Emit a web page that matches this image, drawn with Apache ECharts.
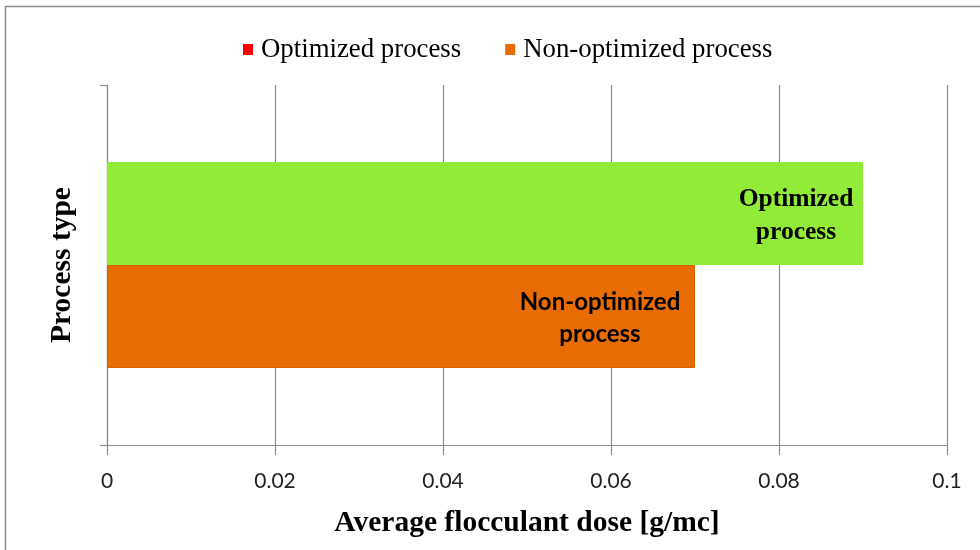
<!DOCTYPE html>
<html>
<head>
<meta charset="utf-8">
<script src="https://cdn.jsdelivr.net/npm/echarts@6/dist/echarts.min.js"></script>
<style>html,body{margin:0;padding:0;background:#fff}#c{width:980px;height:550px}</style>
</head>
<body>
<div id="c"></div>
<script>
const categories = [''];
const seriesNames = ['Optimized process', 'Non-optimized process'];
const optimizedValues = [0.09];
const nonOptimizedValues = [0.07];
const barLabels = ['Optimized\nprocess', 'Non-optimized\nprocess'];
const xTitle = 'Average flocculant dose [g/mc]';
const yTitle = 'Process type';

const legendColors = ['#FF0000', '#E96C02'];
const barColors = ['#92EB39', '#E96C02'];

const chart = echarts.init(document.getElementById('c'));
chart.setOption({
  animation: false,
  backgroundColor: '#fff',
  graphic: [{
    type: 'rect', shape: { x: 5.5, y: 6.5, width: 1000, height: 600 },
    style: { fill: 'none', stroke: '#8a8a8a', lineWidth: 1.5 }, z: 100, silent: true
  }],
  legend: {
    top: 31, left: 238,
    itemWidth: 10, itemHeight: 11, itemGap: 44,
    icon: 'rect',
    textStyle: { fontFamily: 'Liberation Serif', fontSize: 26.8, color: '#000', padding: [0, 0, 0, 3] },
    data: seriesNames
  },
  grid: { left: 107, right: 33, top: 85, bottom: 105, containLabel: false },
  xAxis: {
    type: 'value', min: 0, max: 0.1, interval: 0.02,
    name: xTitle, nameLocation: 'middle', nameGap: 63,
    nameTextStyle: { fontFamily: 'Liberation Serif', fontWeight: 'bold', fontSize: 29.5, color: '#000' },
    axisLine: { show: true, lineStyle: { color: '#8c8c8c', width: 1.2 } },
    axisTick: { show: true, length: 10, lineStyle: { color: '#8c8c8c', width: 1.2 } },
    axisLabel: { margin: 26, fontFamily: 'Lato', fontSize: 21, color: '#222' },
    splitLine: { show: true, lineStyle: { color: '#8c8c8c', width: 1.2 } }
  },
  yAxis: {
    type: 'category', data: categories,
    name: yTitle, nameLocation: 'middle', nameGap: 30, nameRotate: 90,
    nameTextStyle: { fontFamily: 'Liberation Serif', fontWeight: 'bold', fontSize: 29.5, color: '#000' },
    axisLine: { show: true, lineStyle: { color: '#8c8c8c', width: 1.2 } },
    axisTick: { show: true, length: 7, lineStyle: { color: '#8c8c8c', width: 1.2 } },
    axisLabel: { show: false }
  },
  series: [
    {
      name: seriesNames[0], type: 'bar', barWidth: 103, barGap: '0%',
      itemStyle: { color: legendColors[0] },
      data: optimizedValues.map(v => ({
        value: v,
        itemStyle: { color: barColors[0] },
        label: {
          show: true, position: 'insideRight', distance: 0, align: 'center', offset: [-67, 2],
          formatter: barLabels[0], lineHeight: 33,
          fontFamily: 'Liberation Serif', fontWeight: 'bold', fontSize: 25.5, color: '#000'
        }
      }))
    },
    {
      name: seriesNames[1], type: 'bar', barWidth: 103, barGap: '0%',
      itemStyle: { color: legendColors[1] },
      data: nonOptimizedValues.map(v => ({
        value: v,
        itemStyle: { color: barColors[1], borderColor: '#D86000', borderWidth: 1 },
        label: {
          show: true, position: 'insideRight', distance: 0, align: 'center', offset: [-95, 2],
          formatter: barLabels[1], lineHeight: 32,
          fontFamily: 'Lato', fontWeight: 'bold', fontSize: 24, color: '#000'
        }
      }))
    }
  ]
});
</script>
</body>
</html>
